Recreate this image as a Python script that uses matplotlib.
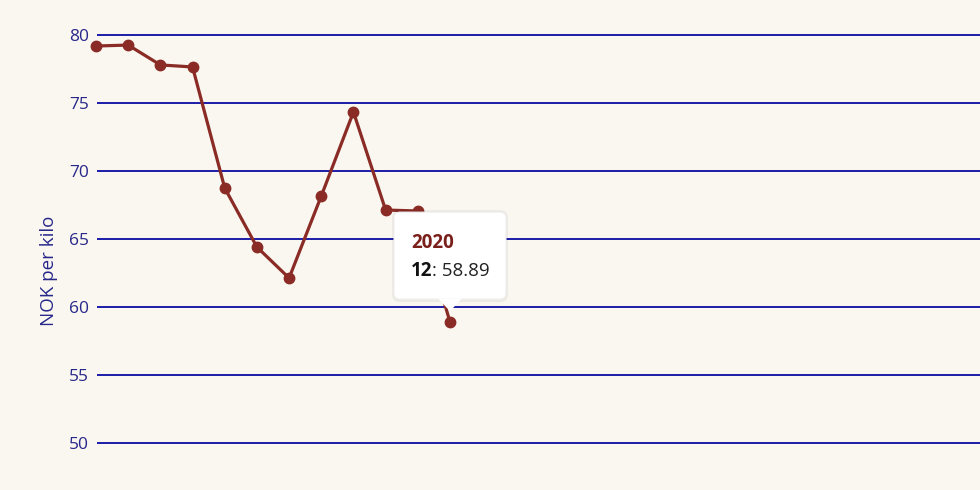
import matplotlib

matplotlib.use("Agg")
import matplotlib.pyplot as plt
import matplotlib.transforms as mtransforms
from matplotlib.patches import FancyBboxPatch, Polygon

plt.rcParams["font.family"] = ["Open Sans", "DejaVu Sans"]

# weekly price, 2020
weeks = [1, 2, 3, 4, 5, 6, 7, 8, 9, 10, 11, 12]
price = [79.19, 79.26, 77.80, 77.65, 68.75, 64.41, 62.13, 68.16, 74.34, 67.13, 67.06, 58.89]
yticks = [50, 55, 60, 65, 70, 75, 80]
tip_year = "2020"
tip_week = 12

BG = "#f9f7f0"
GRID = "#1c1ca8"
TICK = "#27278a"
LINE = "#8a2b25"

fig = plt.figure(figsize=(9.8, 4.9), dpi=100, facecolor=BG)
ax = fig.add_axes([97 / 980, 0, 883 / 980, 1])
ax.set_facecolor(BG)

ax.set_xlim(1.031, 28.47)
ax.set_ylim(46.544, 82.574)
for y in yticks:
    ax.axhline(y, color=GRID, lw=1.4, zorder=1)

ax.plot(weeks, price, color=LINE, lw=2.3, marker="o", ms=7.5, zorder=3, clip_on=False)

ax.set_yticks(yticks)
ax.set_yticklabels([str(t) for t in yticks], fontsize=12.5, color=TICK)
ax.tick_params(axis="y", length=0, pad=6)
ax.set_xticks([])
for s in ax.spines.values():
    s.set_visible(False)

fig.text(49 / 980, 1 - 271 / 490, "NOK per kilo", rotation=90, ha="center", va="center",
         fontsize=13.5, color=TICK)

# tooltip for the last point
px, py = ax.transData.transform((weeks[-1], price[-1]))
tr = mtransforms.Affine2D().translate(px, py)
shadow = FancyBboxPatch((-58, 20), 116, 92, boxstyle="round,pad=0,rounding_size=8",
                        transform=tr, facecolor="#000000", alpha=0.05, lw=0, zorder=4,
                        clip_on=False)
box = FancyBboxPatch((-56, 23), 112, 87, boxstyle="round,pad=0,rounding_size=6",
                     transform=tr, facecolor="white", edgecolor="#eeeeee", lw=0.8, zorder=5,
                     clip_on=False)
tri = Polygon([(-12, 23.5), (12, 23.5), (0, 11)], closed=True, transform=tr,
              facecolor="white", edgecolor="none", zorder=6, clip_on=False)
ax.add_patch(shadow)
ax.add_patch(box)
ax.add_patch(tri)


def off(dx, dy):
    return mtransforms.offset_copy(ax.transData, fig=fig, x=dx, y=dy, units="dots")


ax.text(weeks[-1], price[-1], tip_year, transform=off(-39, 79), fontsize=13.5,
        fontweight="bold", color="#7a1f1a", va="center", ha="left", zorder=7)
t1 = ax.text(weeks[-1], price[-1], f"{tip_week}", transform=off(-39, 51), fontsize=13.5,
             fontweight="bold", color="#111111", va="center", ha="left", zorder=7)
fig.canvas.draw()
bb = t1.get_window_extent()
ax.text(weeks[-1], price[-1], f": {price[-1]:.2f}", transform=off(-39 + bb.width, 51),
        fontsize=13.5, color="#222222", va="center", ha="left", zorder=7)

fig.savefig("out.png", dpi=100, facecolor=BG)
